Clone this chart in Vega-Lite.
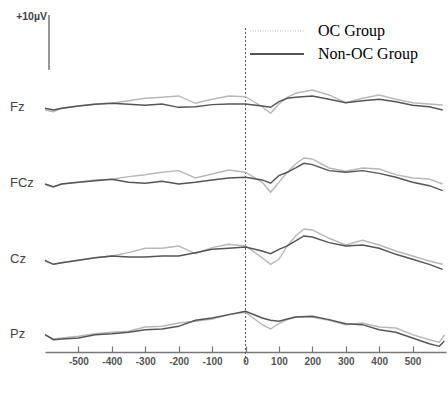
{
  "$schema": "https://vega.github.io/schema/vega-lite/v6.json",
  "background": "white",
  "padding": {"left": 10, "top": 4, "right": 2, "bottom": 5},
  "config": {
    "view": {"stroke": null},
    "font": "Liberation Sans",
    "axisX": {
      "domainColor": "#777", "domainWidth": 1.5, "tickColor": "#777", "tickSize": -6, "tickWidth": 1.2,
      "labelFont": "Liberation Sans", "labelFontSize": 10, "labelFontWeight": "bold", "labelColor": "#555",
      "labelPadding": 10, "grid": false, "offset": -11
    }
  },
  "data": {"values": [
    {"ch": "top", "label": "+10µV"},
    {"ch":"Fz","grp":"OC Group","t":-600,"uV":0.18},{"ch":"Fz","grp":"OC Group","t":-575,"uV":-0.13},{"ch":"Fz","grp":"OC Group","t":-550,"uV":0.49},{"ch":"Fz","grp":"OC Group","t":-500,"uV":0.91},{"ch":"Fz","grp":"OC Group","t":-450,"uV":1.27},{"ch":"Fz","grp":"OC Group","t":-400,"uV":1.4},{"ch":"Fz","grp":"OC Group","t":-350,"uV":1.87},{"ch":"Fz","grp":"OC Group","t":-300,"uV":2.31},{"ch":"Fz","grp":"OC Group","t":-250,"uV":2.49},{"ch":"Fz","grp":"OC Group","t":-200,"uV":2.73},{"ch":"Fz","grp":"OC Group","t":-150,"uV":1.4},{"ch":"Fz","grp":"OC Group","t":-100,"uV":2.13},{"ch":"Fz","grp":"OC Group","t":-50,"uV":2.73},{"ch":"Fz","grp":"OC Group","t":0,"uV":2.6},{"ch":"Fz","grp":"OC Group","t":50,"uV":0.78},{"ch":"Fz","grp":"OC Group","t":75,"uV":-0.42},{"ch":"Fz","grp":"OC Group","t":100,"uV":1.27},{"ch":"Fz","grp":"OC Group","t":125,"uV":2.49},{"ch":"Fz","grp":"OC Group","t":150,"uV":3.22},{"ch":"Fz","grp":"OC Group","t":200,"uV":3.82},{"ch":"Fz","grp":"OC Group","t":250,"uV":2.91},{"ch":"Fz","grp":"OC Group","t":300,"uV":1.51},{"ch":"Fz","grp":"OC Group","t":350,"uV":2.31},{"ch":"Fz","grp":"OC Group","t":400,"uV":2.91},{"ch":"Fz","grp":"OC Group","t":450,"uV":2.13},{"ch":"Fz","grp":"OC Group","t":500,"uV":1.51},{"ch":"Fz","grp":"OC Group","t":550,"uV":1.27},{"ch":"Fz","grp":"OC Group","t":590,"uV":1.09},
    {"ch":"Fz","grp":"Non-OC Group","t":-600,"uV":0.49},{"ch":"Fz","grp":"Non-OC Group","t":-575,"uV":0.18},{"ch":"Fz","grp":"Non-OC Group","t":-550,"uV":0.49},{"ch":"Fz","grp":"Non-OC Group","t":-500,"uV":0.91},{"ch":"Fz","grp":"Non-OC Group","t":-450,"uV":1.22},{"ch":"Fz","grp":"Non-OC Group","t":-400,"uV":1.4},{"ch":"Fz","grp":"Non-OC Group","t":-350,"uV":1.22},{"ch":"Fz","grp":"Non-OC Group","t":-300,"uV":1.04},{"ch":"Fz","grp":"Non-OC Group","t":-250,"uV":1.27},{"ch":"Fz","grp":"Non-OC Group","t":-200,"uV":0.67},{"ch":"Fz","grp":"Non-OC Group","t":-150,"uV":0.78},{"ch":"Fz","grp":"Non-OC Group","t":-100,"uV":1.15},{"ch":"Fz","grp":"Non-OC Group","t":-50,"uV":1.27},{"ch":"Fz","grp":"Non-OC Group","t":0,"uV":1.27},{"ch":"Fz","grp":"Non-OC Group","t":50,"uV":0.91},{"ch":"Fz","grp":"Non-OC Group","t":75,"uV":0.67},{"ch":"Fz","grp":"Non-OC Group","t":100,"uV":1.69},{"ch":"Fz","grp":"Non-OC Group","t":125,"uV":2.31},{"ch":"Fz","grp":"Non-OC Group","t":150,"uV":2.49},{"ch":"Fz","grp":"Non-OC Group","t":200,"uV":2.73},{"ch":"Fz","grp":"Non-OC Group","t":250,"uV":2.13},{"ch":"Fz","grp":"Non-OC Group","t":300,"uV":1.51},{"ch":"Fz","grp":"Non-OC Group","t":350,"uV":1.87},{"ch":"Fz","grp":"Non-OC Group","t":400,"uV":2.13},{"ch":"Fz","grp":"Non-OC Group","t":450,"uV":1.69},{"ch":"Fz","grp":"Non-OC Group","t":500,"uV":1.04},{"ch":"Fz","grp":"Non-OC Group","t":550,"uV":0.78},{"ch":"Fz","grp":"Non-OC Group","t":590,"uV":0.18},
    {"ch":"FCz","grp":"OC Group","t":-600,"uV":-0.31},{"ch":"FCz","grp":"OC Group","t":-575,"uV":-0.78},{"ch":"FCz","grp":"OC Group","t":-550,"uV":-0.18},{"ch":"FCz","grp":"OC Group","t":-500,"uV":0.13},{"ch":"FCz","grp":"OC Group","t":-450,"uV":0.55},{"ch":"FCz","grp":"OC Group","t":-400,"uV":0.67},{"ch":"FCz","grp":"OC Group","t":-350,"uV":1.15},{"ch":"FCz","grp":"OC Group","t":-300,"uV":1.51},{"ch":"FCz","grp":"OC Group","t":-250,"uV":1.95},{"ch":"FCz","grp":"OC Group","t":-200,"uV":2.24},{"ch":"FCz","grp":"OC Group","t":-150,"uV":0.91},{"ch":"FCz","grp":"OC Group","t":-100,"uV":1.64},{"ch":"FCz","grp":"OC Group","t":-50,"uV":2.36},{"ch":"FCz","grp":"OC Group","t":0,"uV":1.95},{"ch":"FCz","grp":"OC Group","t":50,"uV":0.13},{"ch":"FCz","grp":"OC Group","t":75,"uV":-1.69},{"ch":"FCz","grp":"OC Group","t":100,"uV":0.13},{"ch":"FCz","grp":"OC Group","t":125,"uV":1.95},{"ch":"FCz","grp":"OC Group","t":150,"uV":3.45},{"ch":"FCz","grp":"OC Group","t":175,"uV":4.55},{"ch":"FCz","grp":"OC Group","t":200,"uV":4.36},{"ch":"FCz","grp":"OC Group","t":250,"uV":2.73},{"ch":"FCz","grp":"OC Group","t":300,"uV":2.13},{"ch":"FCz","grp":"OC Group","t":350,"uV":2.73},{"ch":"FCz","grp":"OC Group","t":400,"uV":2.55},{"ch":"FCz","grp":"OC Group","t":450,"uV":1.51},{"ch":"FCz","grp":"OC Group","t":500,"uV":0.91},{"ch":"FCz","grp":"OC Group","t":550,"uV":0.73},{"ch":"FCz","grp":"OC Group","t":590,"uV":-0.18},
    {"ch":"FCz","grp":"Non-OC Group","t":-600,"uV":-0.18},{"ch":"FCz","grp":"Non-OC Group","t":-575,"uV":-0.67},{"ch":"FCz","grp":"Non-OC Group","t":-550,"uV":-0.18},{"ch":"FCz","grp":"Non-OC Group","t":-500,"uV":0.13},{"ch":"FCz","grp":"Non-OC Group","t":-450,"uV":0.42},{"ch":"FCz","grp":"Non-OC Group","t":-400,"uV":0.67},{"ch":"FCz","grp":"Non-OC Group","t":-350,"uV":0.13},{"ch":"FCz","grp":"Non-OC Group","t":-300,"uV":-0.05},{"ch":"FCz","grp":"Non-OC Group","t":-250,"uV":0.31},{"ch":"FCz","grp":"Non-OC Group","t":-200,"uV":-0.18},{"ch":"FCz","grp":"Non-OC Group","t":-150,"uV":0.13},{"ch":"FCz","grp":"Non-OC Group","t":-100,"uV":0.55},{"ch":"FCz","grp":"Non-OC Group","t":-50,"uV":0.91},{"ch":"FCz","grp":"Non-OC Group","t":0,"uV":1.04},{"ch":"FCz","grp":"Non-OC Group","t":50,"uV":0.55},{"ch":"FCz","grp":"Non-OC Group","t":75,"uV":-0.05},{"ch":"FCz","grp":"Non-OC Group","t":100,"uV":1.33},{"ch":"FCz","grp":"Non-OC Group","t":125,"uV":1.95},{"ch":"FCz","grp":"Non-OC Group","t":150,"uV":2.73},{"ch":"FCz","grp":"Non-OC Group","t":175,"uV":3.58},{"ch":"FCz","grp":"Non-OC Group","t":200,"uV":3.33},{"ch":"FCz","grp":"Non-OC Group","t":250,"uV":2.24},{"ch":"FCz","grp":"Non-OC Group","t":300,"uV":1.95},{"ch":"FCz","grp":"Non-OC Group","t":350,"uV":2.24},{"ch":"FCz","grp":"Non-OC Group","t":400,"uV":1.76},{"ch":"FCz","grp":"Non-OC Group","t":450,"uV":1.04},{"ch":"FCz","grp":"Non-OC Group","t":500,"uV":0.13},{"ch":"FCz","grp":"Non-OC Group","t":550,"uV":-0.49},{"ch":"FCz","grp":"Non-OC Group","t":590,"uV":-1.4},
    {"ch":"Cz","grp":"OC Group","t":-600,"uV":-1.09},{"ch":"Cz","grp":"OC Group","t":-575,"uV":-1.69},{"ch":"Cz","grp":"OC Group","t":-550,"uV":-1.4},{"ch":"Cz","grp":"OC Group","t":-500,"uV":-0.96},{"ch":"Cz","grp":"OC Group","t":-450,"uV":-0.49},{"ch":"Cz","grp":"OC Group","t":-400,"uV":-0.18},{"ch":"Cz","grp":"OC Group","t":-350,"uV":0.42},{"ch":"Cz","grp":"OC Group","t":-300,"uV":1.22},{"ch":"Cz","grp":"OC Group","t":-250,"uV":1.22},{"ch":"Cz","grp":"OC Group","t":-200,"uV":1.64},{"ch":"Cz","grp":"OC Group","t":-150,"uV":0.24},{"ch":"Cz","grp":"OC Group","t":-100,"uV":1.33},{"ch":"Cz","grp":"OC Group","t":-50,"uV":1.95},{"ch":"Cz","grp":"OC Group","t":0,"uV":1.64},{"ch":"Cz","grp":"OC Group","t":50,"uV":-0.49},{"ch":"Cz","grp":"OC Group","t":75,"uV":-1.69},{"ch":"Cz","grp":"OC Group","t":100,"uV":-0.78},{"ch":"Cz","grp":"OC Group","t":125,"uV":1.64},{"ch":"Cz","grp":"OC Group","t":150,"uV":3.45},{"ch":"Cz","grp":"OC Group","t":175,"uV":4.73},{"ch":"Cz","grp":"OC Group","t":200,"uV":4.55},{"ch":"Cz","grp":"OC Group","t":250,"uV":3.04},{"ch":"Cz","grp":"OC Group","t":300,"uV":1.82},{"ch":"Cz","grp":"OC Group","t":350,"uV":2.67},{"ch":"Cz","grp":"OC Group","t":400,"uV":1.82},{"ch":"Cz","grp":"OC Group","t":450,"uV":0.73},{"ch":"Cz","grp":"OC Group","t":500,"uV":-0.18},{"ch":"Cz","grp":"OC Group","t":550,"uV":-1.09},{"ch":"Cz","grp":"OC Group","t":590,"uV":-1.69},
    {"ch":"Cz","grp":"Non-OC Group","t":-600,"uV":-0.96},{"ch":"Cz","grp":"Non-OC Group","t":-575,"uV":-1.69},{"ch":"Cz","grp":"Non-OC Group","t":-550,"uV":-1.4},{"ch":"Cz","grp":"Non-OC Group","t":-500,"uV":-0.96},{"ch":"Cz","grp":"Non-OC Group","t":-450,"uV":-0.49},{"ch":"Cz","grp":"Non-OC Group","t":-400,"uV":-0.18},{"ch":"Cz","grp":"Non-OC Group","t":-350,"uV":-0.36},{"ch":"Cz","grp":"Non-OC Group","t":-300,"uV":-0.36},{"ch":"Cz","grp":"Non-OC Group","t":-250,"uV":-0.18},{"ch":"Cz","grp":"Non-OC Group","t":-200,"uV":-0.18},{"ch":"Cz","grp":"Non-OC Group","t":-150,"uV":0.42},{"ch":"Cz","grp":"Non-OC Group","t":-100,"uV":1.04},{"ch":"Cz","grp":"Non-OC Group","t":-50,"uV":1.22},{"ch":"Cz","grp":"Non-OC Group","t":0,"uV":1.45},{"ch":"Cz","grp":"Non-OC Group","t":50,"uV":0.73},{"ch":"Cz","grp":"Non-OC Group","t":75,"uV":0.24},{"ch":"Cz","grp":"Non-OC Group","t":100,"uV":1.04},{"ch":"Cz","grp":"Non-OC Group","t":125,"uV":1.64},{"ch":"Cz","grp":"Non-OC Group","t":150,"uV":2.55},{"ch":"Cz","grp":"Non-OC Group","t":175,"uV":3.45},{"ch":"Cz","grp":"Non-OC Group","t":200,"uV":3.27},{"ch":"Cz","grp":"Non-OC Group","t":250,"uV":2.24},{"ch":"Cz","grp":"Non-OC Group","t":300,"uV":1.64},{"ch":"Cz","grp":"Non-OC Group","t":350,"uV":1.82},{"ch":"Cz","grp":"Non-OC Group","t":400,"uV":1.22},{"ch":"Cz","grp":"Non-OC Group","t":450,"uV":0.13},{"ch":"Cz","grp":"Non-OC Group","t":500,"uV":-0.78},{"ch":"Cz","grp":"Non-OC Group","t":550,"uV":-1.69},{"ch":"Cz","grp":"Non-OC Group","t":590,"uV":-2.6},
    {"ch":"Pz","grp":"OC Group","t":-600,"uV":-1.4},{"ch":"Pz","grp":"OC Group","t":-575,"uV":-2.18},{"ch":"Pz","grp":"OC Group","t":-550,"uV":-2.0},{"ch":"Pz","grp":"OC Group","t":-500,"uV":-1.69},{"ch":"Pz","grp":"OC Group","t":-450,"uV":-1.22},{"ch":"Pz","grp":"OC Group","t":-400,"uV":-0.96},{"ch":"Pz","grp":"OC Group","t":-350,"uV":-0.78},{"ch":"Pz","grp":"OC Group","t":-300,"uV":0},{"ch":"Pz","grp":"OC Group","t":-250,"uV":0.13},{"ch":"Pz","grp":"OC Group","t":-200,"uV":0.73},{"ch":"Pz","grp":"OC Group","t":-150,"uV":1.04},{"ch":"Pz","grp":"OC Group","t":-100,"uV":1.45},{"ch":"Pz","grp":"OC Group","t":-50,"uV":2.24},{"ch":"Pz","grp":"OC Group","t":0,"uV":2.67},{"ch":"Pz","grp":"OC Group","t":50,"uV":0.42},{"ch":"Pz","grp":"OC Group","t":75,"uV":-0.36},{"ch":"Pz","grp":"OC Group","t":100,"uV":0.6},{"ch":"Pz","grp":"OC Group","t":125,"uV":1.33},{"ch":"Pz","grp":"OC Group","t":150,"uV":1.82},{"ch":"Pz","grp":"OC Group","t":200,"uV":1.82},{"ch":"Pz","grp":"OC Group","t":250,"uV":1.22},{"ch":"Pz","grp":"OC Group","t":300,"uV":0.42},{"ch":"Pz","grp":"OC Group","t":350,"uV":0.73},{"ch":"Pz","grp":"OC Group","t":400,"uV":0},{"ch":"Pz","grp":"OC Group","t":450,"uV":-0.18},{"ch":"Pz","grp":"OC Group","t":500,"uV":-1.4},{"ch":"Pz","grp":"OC Group","t":550,"uV":-2.31},{"ch":"Pz","grp":"OC Group","t":580,"uV":-2.78},{"ch":"Pz","grp":"OC Group","t":595,"uV":-1.45},
    {"ch":"Pz","grp":"Non-OC Group","t":-600,"uV":-1.4},{"ch":"Pz","grp":"Non-OC Group","t":-575,"uV":-2.31},{"ch":"Pz","grp":"Non-OC Group","t":-550,"uV":-2.18},{"ch":"Pz","grp":"Non-OC Group","t":-500,"uV":-2.0},{"ch":"Pz","grp":"Non-OC Group","t":-450,"uV":-1.4},{"ch":"Pz","grp":"Non-OC Group","t":-400,"uV":-1.22},{"ch":"Pz","grp":"Non-OC Group","t":-350,"uV":-0.96},{"ch":"Pz","grp":"Non-OC Group","t":-300,"uV":-0.49},{"ch":"Pz","grp":"Non-OC Group","t":-250,"uV":-0.36},{"ch":"Pz","grp":"Non-OC Group","t":-200,"uV":0.13},{"ch":"Pz","grp":"Non-OC Group","t":-150,"uV":1.22},{"ch":"Pz","grp":"Non-OC Group","t":-100,"uV":1.64},{"ch":"Pz","grp":"Non-OC Group","t":-50,"uV":2.24},{"ch":"Pz","grp":"Non-OC Group","t":0,"uV":2.85},{"ch":"Pz","grp":"Non-OC Group","t":50,"uV":1.64},{"ch":"Pz","grp":"Non-OC Group","t":75,"uV":1.22},{"ch":"Pz","grp":"Non-OC Group","t":100,"uV":1.04},{"ch":"Pz","grp":"Non-OC Group","t":125,"uV":1.45},{"ch":"Pz","grp":"Non-OC Group","t":150,"uV":1.82},{"ch":"Pz","grp":"Non-OC Group","t":200,"uV":1.95},{"ch":"Pz","grp":"Non-OC Group","t":250,"uV":1.33},{"ch":"Pz","grp":"Non-OC Group","t":300,"uV":0.6},{"ch":"Pz","grp":"Non-OC Group","t":350,"uV":0.42},{"ch":"Pz","grp":"Non-OC Group","t":400,"uV":-0.49},{"ch":"Pz","grp":"Non-OC Group","t":450,"uV":-0.96},{"ch":"Pz","grp":"Non-OC Group","t":500,"uV":-2.0},{"ch":"Pz","grp":"Non-OC Group","t":550,"uV":-3.04},{"ch":"Pz","grp":"Non-OC Group","t":580,"uV":-3.51},{"ch":"Pz","grp":"Non-OC Group","t":595,"uV":-2.55}
  ]},
  "facet": {"row": {"field": "ch", "type": "nominal", "sort": ["top", "Fz", "FCz", "Cz", "Pz"], "header": null}},
  "spacing": 0,
  "spec": {
    "width": 401,
    "height": 70,
    "layer": [
      {
        "transform": [{"filter": "datum.ch !== 'top'"}, {"aggregate": [{"op": "count", "as": "n"}], "groupby": ["ch"]}],
        "mark": {"type": "rule", "color": "#555", "strokeWidth": 1, "strokeDash": [2, 2]},
        "encoding": {"x": {"datum": 0, "type": "quantitative", "title": null}}
      },
      {
        "transform": [{"filter": "datum.ch === 'top'"}],
        "mark": {"type": "rule", "color": "#555", "strokeWidth": 1, "strokeDash": [2, 2]},
        "encoding": {
          "x": {"datum": 0, "type": "quantitative", "title": null},
          "y": {"datum": 2.0, "type": "quantitative", "axis": null, "title": null},
          "y2": {"datum": -6.36}
        }
      },
      {
        "transform": [{"filter": "datum.ch === 'top'"}],
        "mark": {"type": "rule", "color": "#555", "strokeWidth": 1.2},
        "encoding": {
          "x": {"datum": -588, "type": "quantitative", "title": null},
          "y": {"datum": 4.36, "type": "quantitative", "axis": null, "title": null},
          "y2": {"datum": -5.64}
        }
      },
      {
        "transform": [{"filter": "datum.ch === 'top'"}],
        "mark": {"type": "text", "align": "right", "baseline": "middle", "dx": -2, "fontSize": 10.5, "fontWeight": "bold", "color": "#444", "font": "Liberation Sans"},
        "encoding": {
          "x": {"datum": -588, "type": "quantitative", "title": null},
          "y": {"datum": 4.0, "type": "quantitative", "axis": null, "title": null},
          "text": {"field": "label"}
        }
      },
      {
        "transform": [{"filter": "datum.ch !== 'top'"}],
        "mark": {"type": "line", "strokeWidth": 1.4},
        "encoding": {
          "x": {"field": "t", "type": "quantitative", "title": null,
                "scale": {"domain": [-600, 600], "nice": false, "zero": false},
                "axis": {"values": [-500, -400, -300, -200, -100, 0, 100, 200, 300, 400, 500], "labelExpr": "'' + datum.value", "title": null}},
          "y": {"field": "uV", "type": "quantitative", "title": null, "axis": null,
                "scale": {"domain": [-6.36, 6.36], "nice": false, "zero": false}},
          "color": {"field": "grp", "type": "nominal",
                    "scale": {"domain": ["OC Group", "Non-OC Group"], "range": ["#b8b8b8", "#555555"]},
                    "legend": {"title": null, "orient": "none", "legendX": 224, "legendY": 19, "padding": 0,
                               "symbolType": "stroke", "symbolSize": 2916, "symbolStrokeWidth": 1.5,
                               "labelFont": "Liberation Serif", "labelFontSize": 16, "labelColor": "#000",
                               "labelOffset": 33, "rowPadding": 7,
                               "encode": {"symbols": {"update": {
                                 "stroke": {"value": "#000000"},
                                 "strokeDash": {"signal": "datum.value === 'OC Group' ? [1, 1.5] : [1, 0]"},
                                 "strokeWidth": {"signal": "datum.value === 'OC Group' ? 1.2 : 2"}
                               }}}},
                    "sort": ["OC Group", "Non-OC Group"]},
          "order": {"field": "t", "type": "quantitative"}
        }
      },
      {
        "transform": [{"filter": "datum.ch !== 'top' && datum.t === -600 && datum.grp === 'Non-OC Group'"}],
        "mark": {"type": "text", "align": "left", "baseline": "middle", "dx": -35, "dy": -1, "fontSize": 13, "color": "#444", "font": "Liberation Sans"},
        "encoding": {
          "x": {"field": "t", "type": "quantitative", "title": null},
          "y": {"field": "uV", "type": "quantitative", "axis": null, "title": null},
          "text": {"field": "ch"}
        }
      }
    ]
  }
}
